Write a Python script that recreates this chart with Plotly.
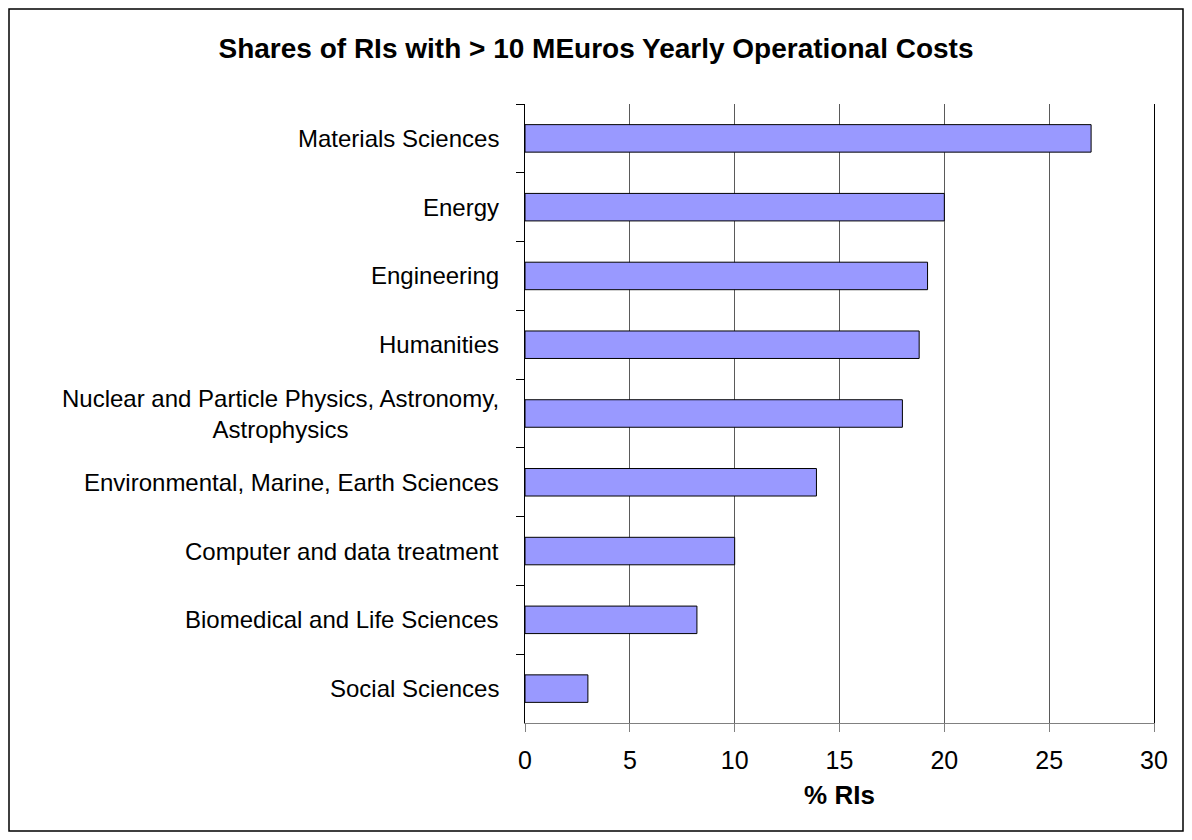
import plotly.graph_objects as go

# ---- data ----
categories = [
    "Materials Sciences",
    "Energy",
    "Engineering",
    "Humanities",
    "Nuclear and Particle Physics, Astronomy,<br>Astrophysics",
    "Environmental, Marine, Earth Sciences",
    "Computer and data treatment",
    "Biomedical and Life Sciences",
    "Social Sciences",
]
shares = [27.0, 20.0, 19.2, 18.8, 18.0, 13.9, 10.0, 8.2, 3.0]
x_ticks = [0, 5, 10, 15, 20, 25, 30]

title_text = "Shares of RIs with > 10 MEuros Yearly Operational Costs"
x_title = "% RIs"

# ---- layout geometry (page body adds an 8px offset) ----
W, H = 1176, 824
ML, MR, MT, MB = 517, 30, 96, 109
pw = W - ML - MR
ph = H - MT - MB

FONT = "Liberation Sans, Arial, sans-serif"

fig = go.Figure()
fig.add_trace(go.Bar(
    x=shares,
    y=categories,
    orientation="h",
    width=0.4,
    marker=dict(color="#9999FF", line=dict(color="#000000", width=1)),
    hoverinfo="x+y",
))

# category labels as annotations (centred multi-line block, right anchored)
for c in categories:
    fig.add_annotation(
        x=0, xref="paper", xanchor="right", xshift=-24,
        y=c, yref="y", yanchor="middle",
        text=c, showarrow=False, align="center",
        font=dict(family=FONT, size=24, color="#000000"),
    )

# outer border of the chart (figure edge)
fig.add_shape(
    type="rect", xref="paper", yref="paper",
    x0=(1 - ML) / pw, x1=1 + (MR - 1) / pw,
    y0=-(MB - 1) / ph, y1=1 + (MT - 1) / ph,
    line=dict(color="#000000", width=1.5), fillcolor="rgba(0,0,0,0)",
    layer="below",
)

fig.update_layout(
    width=W, height=H,
    margin=dict(l=ML, r=MR, t=MT, b=MB, pad=0),
    paper_bgcolor="white", plot_bgcolor="white",
    showlegend=False,
    font=dict(family=FONT, color="#000000"),
    title=dict(
        text="<b>" + title_text + "</b>",
        x=0.5, xanchor="center",
        y=1 - 40 / H, yanchor="middle", yref="container",
        font=dict(family=FONT, size=28, color="#000000"),
    ),
    xaxis=dict(
        range=[0, 30],
        tickmode="array", tickvals=x_ticks, ticktext=[str(v) for v in x_ticks],
        ticks="outside", ticklen=8, tickcolor="#808080", tickwidth=1,
        showgrid=True, gridcolor="#5a5a5a", gridwidth=1,
        showline=True, linecolor="#808080", linewidth=1,
        zeroline=False,
        tickfont=dict(family=FONT, size=25, color="#000000"),
        ticklabelstandoff=7,
        title=dict(text="<b>" + x_title + "</b>", standoff=12,
                   font=dict(family=FONT, size=26, color="#000000")),
        fixedrange=True,
    ),
    yaxis=dict(
        type="category",
        categoryorder="array", categoryarray=categories,
        autorange="reversed",
        tickson="boundaries",
        ticks="outside", ticklen=8, tickcolor="#000000", tickwidth=1,
        showticklabels=False,
        showgrid=False,
        showline=True, linecolor="#000000", linewidth=1, mirror=True,
        zeroline=False,
        fixedrange=True,
    ),
    bargap=0.6,
)

fig.write_html("out.html")
